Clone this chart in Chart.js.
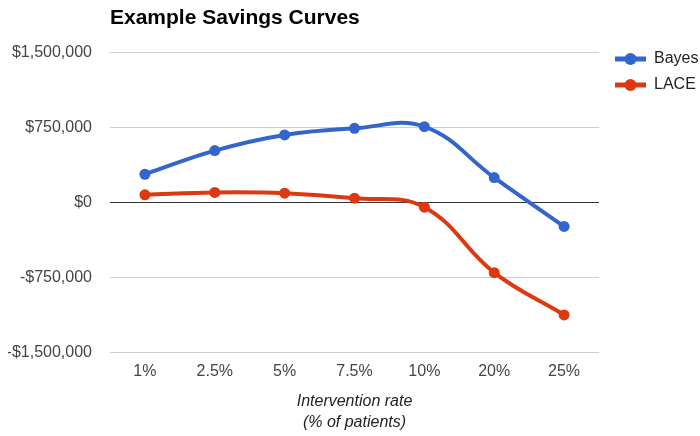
<!DOCTYPE html>
<html>
<head>
<meta charset="utf-8">
<script src="https://cdn.jsdelivr.net/npm/chart.js@4/dist/chart.umd.min.js"></script>
<style>
  html, body { margin: 0; padding: 0; background: #fff; }
  #wrap { width: 700px; height: 436px; }
</style>
</head>
<body>
<div id="wrap"><canvas id="chart" width="700" height="436"></canvas></div>
<script>
// data
const categories = ['1%', '2.5%', '5%', '7.5%', '10%', '20%', '25%'];
const bayesValues = [282000, 518000, 674000, 740000, 757000, 249000, -239000];
const laceValues = [77000, 100000, 93000, 43000, -47000, -700000, -1122000];
const yTicks = [-1500000, -750000, 0, 750000, 1500000];

const FONT = "'Liberation Sans', Arial, sans-serif";
const BLUE = '#3366cc';
const RED = '#dc3912';

// legend marker: a short line with a dot in the middle
function makeMarker(color) {
  const c = document.createElement('canvas');
  c.width = 37;
  c.height = 14;
  const g = c.getContext('2d');
  g.strokeStyle = color;
  g.lineWidth = 5;
  g.beginPath();
  g.moveTo(6, 7);
  g.lineTo(37, 7);
  g.stroke();
  g.fillStyle = color;
  g.beginPath();
  g.arc(21.5, 7, 6, 0, Math.PI * 2);
  g.fill();
  return c;
}

const fmtMoney = (v) => {
  const s = '$' + Math.abs(v).toLocaleString('en-US');
  return v < 0 ? '-' + s : s;
};

const ctx = document.getElementById('chart').getContext('2d');

const myChart = new Chart(ctx, {
  type: 'line',
  data: {
    labels: categories,
    datasets: [
      {
        label: 'Bayes',
        data: bayesValues,
        borderColor: BLUE,
        backgroundColor: BLUE,
        borderWidth: 4,
        pointRadius: 5.5,
        pointBorderWidth: 0,
        tension: 0.4,
        fill: false,
        marker: makeMarker(BLUE),
      },
      {
        label: 'LACE',
        data: laceValues,
        borderColor: RED,
        backgroundColor: RED,
        borderWidth: 4,
        pointRadius: 5.5,
        pointBorderWidth: 0,
        tension: 0.4,
        fill: false,
        marker: makeMarker(RED),
      },
    ],
  },
  options: {
    responsive: false,
    animation: false,
    layout: { padding: { left: 8, right: 0, top: 0, bottom: 3 } },
    plugins: {
      title: {
        display: true,
        text: 'Example Savings Curves',
        align: 'start',
        fullSize: false,
        color: '#000',
        font: { family: FONT, size: 21, weight: 'bold', lineHeight: 1.2 },
        padding: { top: 6, bottom: 21 },
      },
      legend: {
        position: 'right',
        align: 'start',
        maxWidth: 101,
        title: {
          display: true,
          text: ' ',
          font: { family: FONT, size: 15, lineHeight: 1.2 },
          padding: { top: 0, bottom: 23 },
        },
        labels: {
          usePointStyle: true,
          pointStyleWidth: 37,
          padding: 10,
          color: '#222',
          font: { family: FONT, size: 16 },
          generateLabels: (chart) => {
            const items = Chart.defaults.plugins.legend.labels.generateLabels(chart);
            items.forEach((it) => {
              it.pointStyle = chart.data.datasets[it.datasetIndex].marker;
            });
            return items;
          },
        },
      },
      tooltip: { enabled: false },
    },
    scales: {
      x: {
        offset: true,
        grid: { display: false, drawTicks: false },
        border: { display: false },
        ticks: {
          padding: 9.5,
          color: '#444',
          font: { family: FONT, size: 16 },
          maxRotation: 0,
        },
        title: {
          display: true,
          text: ['Intervention rate', '(% of patients)'],
          color: '#222',
          font: { family: FONT, size: 16, style: 'italic', lineHeight: 1.3125 },
          padding: { top: 0, bottom: 0 },
        },
      },
      y: {
        min: yTicks[0],
        max: yTicks[yTicks.length - 1],
        afterBuildTicks: (axis) => {
          axis.ticks = yTicks.map((v) => ({ value: v }));
        },
        afterFit: (axis) => {
          axis.width = 102;
        },
        grid: {
          drawTicks: false,
          color: (c) => (c.tick && c.tick.value === 0 ? '#333' : '#cfcfcf'),
        },
        border: { display: false },
        ticks: {
          padding: 18,
          color: '#444',
          font: { family: FONT, size: 16 },
          callback: (v) => fmtMoney(v),
        },
      },
    },
  },
});
</script>
</body>
</html>
